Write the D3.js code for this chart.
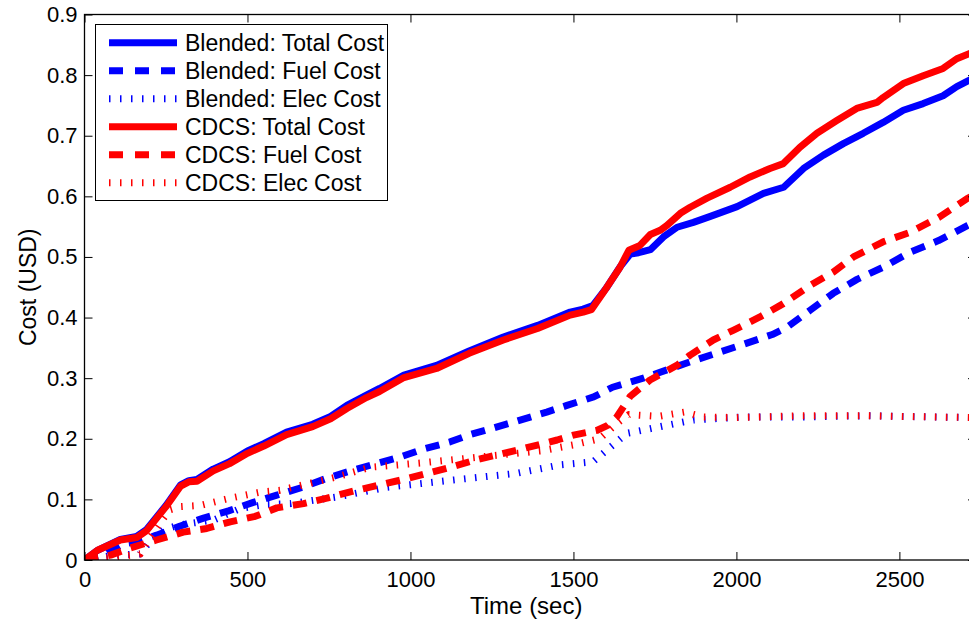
<!DOCTYPE html>
<html>
<head>
<meta charset="utf-8">
<script src="https://cdn.jsdelivr.net/npm/d3@7"></script>
<style>
  html, body { margin: 0; padding: 0; background: #fff; }
  svg { display: block; font-family: "Liberation Sans", Arial, Helvetica, sans-serif; }
</style>
</head>
<body>
<svg id="chart" width="969" height="628"></svg>
<script>
// ---------------- DATA ----------------
const xTicks = [0, 500, 1000, 1500, 2000, 2500];
const xTickLabels = ["0", "500", "1000", "1500", "2000", "2500"];
const yTicks = [0, 0.1, 0.2, 0.3, 0.4, 0.5, 0.6, 0.7, 0.8, 0.9];
const yTickLabels = ["0", "0.1", "0.2", "0.3", "0.4", "0.5", "0.6", "0.7", "0.8", "0.9"];
const xLabel = "Time (sec)";
const yLabel = "Cost (USD)";

const seriesNames = ["Blended: Total Cost", "Blended: Fuel Cost", "Blended: Elec Cost",
                     "CDCS: Total Cost", "CDCS: Fuel Cost", "CDCS: Elec Cost"];

// [time (s), cost (USD)]
const blendedTotal = [[0,0],[40,0.016],[110,0.034],[160,0.039],[190,0.05],[250,0.09],[295,0.124],[320,0.131],[345,0.133],
  [395,0.15],[445,0.162],[500,0.18],[550,0.192],[620,0.211],[700,0.224],[755,0.237],[805,0.255],[865,0.272],[905,0.283],
  [980,0.305],[1080,0.321],[1180,0.345],[1285,0.368],[1390,0.387],[1490,0.409],[1530,0.414],[1560,0.42],[1600,0.448],
  [1645,0.485],[1675,0.505],[1700,0.507],[1736,0.512],[1776,0.533],[1818,0.549],[1868,0.557],[1920,0.567],[2002,0.583],
  [2083,0.605],[2145,0.615],[2206,0.646],[2267,0.668],[2328,0.687],[2389,0.704],[2450,0.722],[2512,0.742],[2573,0.753],
  [2634,0.766],[2676,0.781],[2712,0.791],[2735,0.797]];
const blendedFuel = [[0,0],[60,0.008],[120,0.027],[160,0.03],[221,0.041],[294,0.056],[365,0.069],[442,0.081],[518,0.095],
  [590,0.107],[669,0.12],[744,0.135],[822,0.148],[901,0.16],[969,0.17],[1040,0.183],[1122,0.195],[1183,0.207],[1300,0.225],
  [1418,0.244],[1480,0.255],[1562,0.269],[1620,0.285],[1714,0.30],[1858,0.327],[2011,0.354],[2110,0.372],[2155,0.384],
  [2226,0.412],[2297,0.44],[2370,0.463],[2450,0.483],[2533,0.508],[2620,0.527],[2710,0.552],[2735,0.558]];
const blendedElec = [[0,0],[90,0.008],[170,0.01],[200,0.03],[242,0.05],[294,0.058],[397,0.066],[478,0.085],[560,0.092],
  [631,0.093],[774,0.104],[928,0.12],[1132,0.132],[1326,0.143],[1460,0.157],[1560,0.162],[1613,0.186],[1664,0.209],
  [1766,0.22],[1868,0.231],[2021,0.236],[2200,0.236],[2400,0.238],[2600,0.236],[2735,0.235]];
const cdcsTotal = [[0,0],[40,0.016],[110,0.033],[160,0.037],[190,0.048],[250,0.088],[295,0.122],[320,0.129],[345,0.13],
  [395,0.147],[445,0.159],[500,0.176],[550,0.188],[620,0.207],[700,0.22],[755,0.233],[805,0.25],[865,0.268],[905,0.278],
  [980,0.301],[1080,0.316],[1180,0.341],[1285,0.363],[1390,0.382],[1490,0.404],[1530,0.409],[1555,0.413],[1590,0.44],
  [1643,0.483],[1670,0.511],[1704,0.519],[1736,0.537],[1766,0.544],[1787,0.552],[1828,0.572],[1858,0.582],[1910,0.597],
  [1981,0.615],[2042,0.632],[2103,0.646],[2144,0.654],[2195,0.681],[2247,0.704],[2308,0.725],[2369,0.745],[2431,0.755],
  [2450,0.763],[2512,0.786],[2573,0.799],[2634,0.811],[2676,0.827],[2712,0.835],[2735,0.84]];
const cdcsFuel = [[0,0],[80,0.008],[141,0.02],[221,0.033],[303,0.046],[375,0.052],[447,0.063],[524,0.072],[590,0.086],
  [672,0.093],[744,0.102],[826,0.114],[907,0.124],[979,0.133],[1051,0.143],[1122,0.153],[1200,0.165],[1326,0.181],
  [1450,0.198],[1500,0.206],[1573,0.214],[1605,0.222],[1633,0.236],[1674,0.27],[1735,0.297],[1817,0.321],[1858,0.338],
  [1929,0.363],[1990,0.379],[2072,0.401],[2144,0.423],[2226,0.453],[2297,0.475],[2359,0.50],[2450,0.525],[2530,0.54],
  [2620,0.565],[2710,0.597],[2735,0.603]];
const cdcsElec = [[0,0],[100,0.005],[171,0.01],[192,0.03],[230,0.06],[263,0.083],[294,0.088],[355,0.09],[447,0.102],
  [539,0.112],[600,0.115],[774,0.137],[876,0.153],[1030,0.16],[1122,0.165],[1250,0.172],[1400,0.18],[1500,0.19],
  [1580,0.2],[1640,0.228],[1670,0.24],[1760,0.237],[1840,0.244],[1900,0.236],[2000,0.235],[2200,0.238],[2400,0.238],
  [2600,0.236],[2735,0.235]];

const seriesData = [blendedTotal, blendedFuel, blendedElec, cdcsTotal, cdcsFuel, cdcsElec];
const seriesColors = ["#0000ff", "#0000ff", "#0000ff", "#ff0000", "#ff0000", "#ff0000"];
const seriesDash = ["none", "14,10", "1.5,9.5", "none", "14,10", "1.5,9.5"];

// ---------------- LAYOUT ----------------
const svg = d3.select("#chart");
const pLeft = 84.5, pTop = 14.5, pRight = 976, pBottom = 560;
const x = d3.scaleLinear().domain([0, 2735]).range([pLeft, pRight]);
const y = d3.scaleLinear().domain([0, 0.9]).range([pBottom, pTop]);

svg.append("defs").append("clipPath").attr("id", "clip")
  .append("rect").attr("x", pLeft).attr("y", pTop).attr("width", pRight - pLeft).attr("height", pBottom - pTop);

// lines
const line = d3.line().x(d => x(d[0])).y(d => y(d[1]));
const gLines = svg.append("g").attr("clip-path", "url(#clip)");
seriesData.forEach((s, i) => {
  gLines.append("path").datum(s)
    .attr("d", line)
    .attr("fill", "none")
    .attr("stroke", seriesColors[i])
    .attr("stroke-width", 7)
    .attr("stroke-linejoin", "round")
    .attr("stroke-linecap", "butt")
    .attr("stroke-dasharray", seriesDash[i]);
});

// axes
const tickFont = 22;
const axB = d3.axisBottom(x).tickValues(xTicks).tickFormat((d, i) => xTickLabels[i]).tickSizeInner(-8).tickSizeOuter(0).tickPadding(11.5);
const axT = d3.axisTop(x).tickValues(xTicks).tickFormat("").tickSizeInner(-8).tickSizeOuter(0);
const axL = d3.axisLeft(y).tickValues(yTicks).tickFormat((d, i) => yTickLabels[i]).tickSizeInner(-8).tickSizeOuter(0).tickPadding(7);
const axR = d3.axisRight(y).tickValues(yTicks).tickFormat("").tickSizeInner(-8).tickSizeOuter(0);

function styleAxis(g) {
  g.select(".domain").remove();
  g.selectAll(".tick line").attr("stroke", "#000").attr("stroke-width", 1);
  g.selectAll(".tick text").attr("fill", "#000").style("font-size", tickFont + "px")
    .style("font-family", "'Liberation Sans', Arial, Helvetica, sans-serif");
}
svg.append("g").attr("transform", `translate(0,${pBottom})`).call(axB).call(styleAxis);
svg.append("g").attr("transform", `translate(0,${pTop})`).call(axT).call(styleAxis);
svg.append("g").attr("transform", `translate(${pLeft},0)`).call(axL).call(styleAxis);
svg.append("g").attr("transform", `translate(${pRight},0)`).call(axR).call(styleAxis);

// box
svg.append("rect").attr("x", pLeft).attr("y", pTop).attr("width", pRight - pLeft).attr("height", pBottom - pTop)
  .attr("fill", "none").attr("stroke", "#000").attr("stroke-width", 1.3);

// axis labels
svg.append("text").attr("x", (pLeft + 968) / 2).attr("y", 614).attr("text-anchor", "middle")
  .style("font-size", "24px").attr("fill", "#000").text(xLabel);
svg.append("text").attr("transform", `translate(36,${(pTop + pBottom) / 2}) rotate(-90)`).attr("text-anchor", "middle")
  .style("font-size", "23px").attr("fill", "#000").text(yLabel);

// legend
const lg = svg.append("g");
lg.append("rect").attr("x", 95.5).attr("y", 24.5).attr("width", 292).attr("height", 176)
  .attr("fill", "#fff").attr("stroke", "#000").attr("stroke-width", 1);
seriesNames.forEach((name, i) => {
  const cy = 42.7 + i * 28;
  lg.append("line").attr("x1", 109).attr("x2", 177).attr("y1", cy).attr("y2", cy)
    .attr("stroke", seriesColors[i]).attr("stroke-width", 7)
    .attr("stroke-dasharray", seriesDash[i] === "none" ? "none" : (i % 3 === 1 ? "14,12" : "1.5,9.5"));
  lg.append("text").attr("x", 185).attr("y", cy).attr("dy", "0.36em")
    .style("font-size", "23px").attr("fill", "#000").text(name);
});
</script>
</body>
</html>
